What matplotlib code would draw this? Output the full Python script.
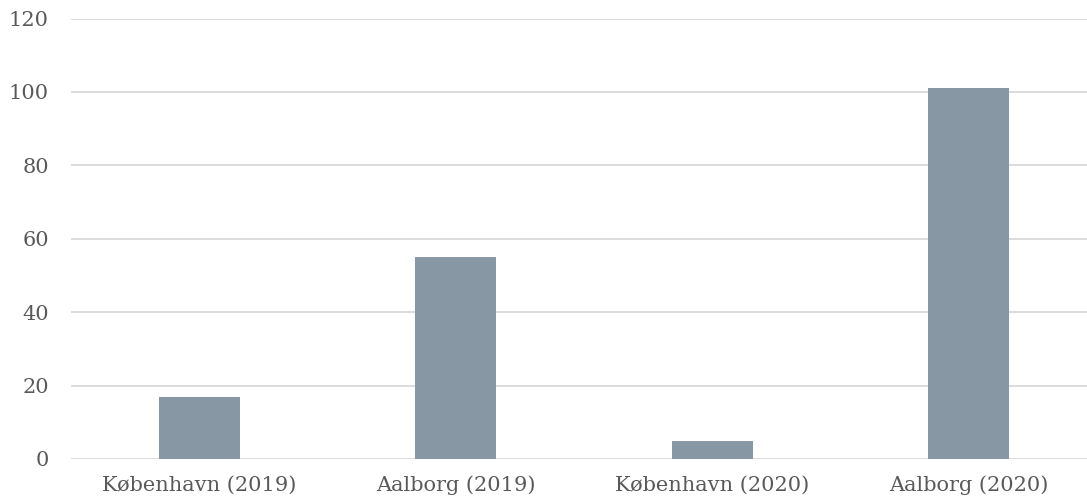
import matplotlib.pyplot as plt

categories = ['København (2019)', 'Aalborg (2019)', 'København (2020)', 'Aalborg (2020)']
values = [17, 55, 5, 101]
yticks = [0, 20, 40, 60, 80, 100, 120]

plt.rcParams['font.family'] = ['DejaVu Serif']

fig = plt.figure(figsize=(10.87, 4.99), dpi=100)
ax = fig.add_axes([71 / 1087, 1 - 459 / 499, 1026 / 1087, (459 - 18.5) / 499])

x = range(len(categories))
ax.bar(x, values, width=0.316, color='#8797a4', zorder=3)

ax.set_xlim(-0.5, 3.5)
ax.set_ylim(0, 120)
ax.set_yticks(yticks)
ax.set_xticks(list(x))
ax.set_xticklabels(categories)
ax.yaxis.grid(True, color='#d9d9d9', linewidth=1.3, zorder=0)
for s in ax.spines.values():
    s.set_visible(False)
ax.tick_params(length=0, colors='#595959', labelsize=15)
ax.tick_params(axis='y', pad=16)
ax.tick_params(axis='x', pad=12)

fig.savefig('out.png', dpi=100)
